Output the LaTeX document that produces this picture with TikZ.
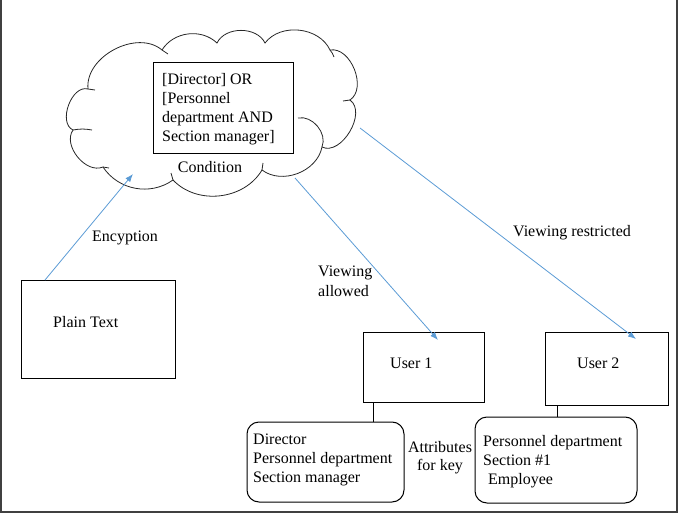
\documentclass[tikz,border=0pt]{standalone}
\usepackage{fontspec}
\setmainfont{Liberation Serif}
\usetikzlibrary{arrows.meta,calc}
\begin{document}
\begin{tikzpicture}[x=1pt,y=-1pt,
  txt/.style={font=\fontsize{16}{19}\selectfont, inner sep=0pt, anchor=base west},
  ctxt/.style={font=\fontsize{16}{19}\selectfont, inner sep=0pt, anchor=base},
  sqbox/.style={draw, line width=1pt, inner sep=0pt, outer sep=0pt, anchor=north west},
  rbox/.style={sqbox, rounded corners=12pt},
  arr/.style={draw=arrowblue, line width=0.8pt, -{Latex[length=8pt,width=6pt]}},
  link/.style={draw, line width=0.8pt},
  cloudline/.style={draw, line width=0.8pt, black!85}
]
\definecolor{arrowblue}{RGB}{91,155,213}
\useasboundingbox (0,0) rectangle (680,516);
% frame
\draw[line width=1.6pt, black!75] (1,0) -- (1,512) -- (677,512) -- (677,0);

% cloud outline (junctions of the puffs)
\coordinate (J1) at (88,89);
\coordinate (J2) at (162,50);
\coordinate (J3) at (217,43);
\coordinate (J4) at (265,43);
\coordinate (J5) at (330,50);
\coordinate (J6) at (350,100);
\coordinate (J7) at (322,147);
\coordinate (J8) at (262,170);
\coordinate (J9) at (173,180);
\coordinate (J10) at (103,167);
\coordinate (J11) at (73,130);
\draw[cloudline] (J1) to[bend left=68] (J2) to[bend left=51] (J3)
  to[bend left=64] (J4) to[bend left=59] (J5) to[bend left=78] (J6)
  to[bend left=85] (J7) to[bend left=58] (J8) to[bend left=53] (J9)
  to[bend left=46] (J10) to[bend left=74] (J11) to[bend left=85] (J1);
% inner puff tails
\draw[cloudline] (J1) to[bend right=10] (95,90);
\draw[cloudline] (J2) to[bend right=10] (168,54);
\draw[cloudline] (J5) to[bend left=10] (334,57);
\draw[cloudline] (J6) to[bend left=10] (343,101);
\draw[cloudline] (298,118) to[bend left=62] (J7);
\draw[cloudline] (J8) to[bend left=10] (263,163);
\draw[cloudline] (J9) to[bend right=10] (171,173);
\draw[cloudline] (J10) to[bend left=10] (109,168);
\draw[cloudline] (J11) to[bend left=10] (92,130);

\node[sqbox, fill=white, minimum width=140pt, minimum height=91pt] (cond) at (153,63) {};
\node[txt] (c1) at (162,85) {[Director] OR};
\node[txt] (c2) at (162,104) {[Personnel};
\node[txt] (c3) at (162,123) {department AND};
\node[txt] (c4) at (162,142) {Section manager]};
\node[ctxt] (condlbl) at (210,172) {Condition};

% plain text
\node[sqbox, minimum width=154pt, minimum height=98pt] (plain) at (21,280) {};
\node[txt] (plaintxt) at (53,327) {Plain Text};

% users
\node[sqbox, minimum width=121pt, minimum height=70pt] (u1) at (363,332) {};
\node[txt] (u1txt) at (390,368) {User 1};
\node[sqbox, minimum width=123pt, minimum height=73pt] (u2) at (545,332) {};
\node[txt] (u2txt) at (577,368) {User 2};

% attribute boxes
\node[rbox, minimum width=157pt, minimum height=80pt] (a1) at (247,422) {};
\node[txt] (a1l1) at (253,444) {Director};
\node[txt] (a1l2) at (253,463) {Personnel department};
\node[txt] (a1l3) at (253,482) {Section manager};
\node[rbox, minimum width=162pt, minimum height=86pt] (a2) at (475,417) {};
\node[txt] (a2l1) at (483,446) {Personnel department};
\node[txt] (a2l2) at (483,465) {Section \#1};
\node[txt] (a2l3) at (488,484) {Employee};

\node[ctxt] (attr1) at (440,452) {Attributes};
\node[ctxt] (attr2) at (440,470) {for key};

% links user -> attributes
\draw[link] (u1.south west -| 373,0) -- (a1.north -| 373,0);
\draw[link] (u2.south west -| 557,0) -- (a2.north -| 557,0);

% arrows
\coordinate (encstart) at (45,280);
\coordinate (encend) at (133,174);
\coordinate (allowstart) at (295,178);
\coordinate (allowend) at (438,340);
\coordinate (reststart) at (360,128);
\coordinate (restend) at (636,339);
\draw[arr] (encstart) -- (encend);
\draw[arr] (allowstart) -- (allowend);
\draw[arr] (reststart) -- (restend);

\node[txt] (enc) at (92,241) {Encyption};
\node[txt] (va1) at (318,276) {Viewing};
\node[txt] (va2) at (318,296) {allowed};
\node[txt] (vr) at (513,236) {Viewing restricted};
\end{tikzpicture}
\end{document}
